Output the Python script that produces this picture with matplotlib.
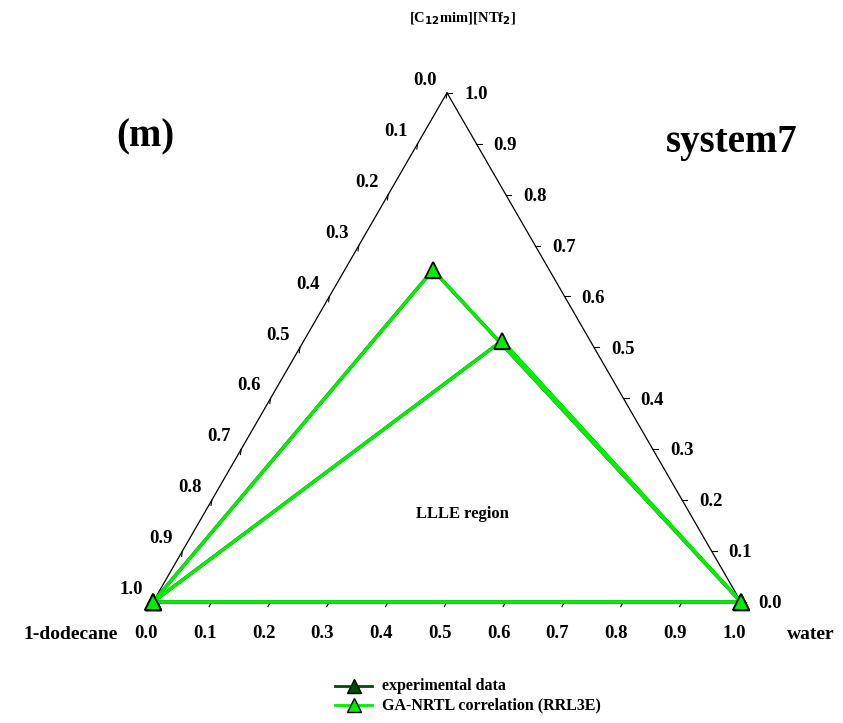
import numpy as np
import matplotlib
matplotlib.use("Agg")
import matplotlib.pyplot as plt

plt.rcParams['font.family'] = ['Liberation Serif', 'DejaVu Serif']
plt.rcParams['font.weight'] = 'bold'

# compositions (mass fractions): IL = [C12mim][NTf2], water; dodecane = 1 - IL - water
exp_il_a = [0.0, 0.652, 0.0, 0.0]
exp_water_a = [0.0, 0.150, 1.0, 0.0]
exp_il_b = [0.0, 0.513, 0.0]
exp_water_b = [0.0, 0.337, 1.0]

calc_il_a = [0.0, 0.652, 0.0, 0.0]
calc_water_a = [0.0, 0.150, 1.0, 0.0]
calc_il_b = [0.0, 0.513, 0.0]
calc_water_b = [0.0, 0.337, 1.0]

ticks = [0.0, 0.1, 0.2, 0.3, 0.4, 0.5, 0.6, 0.7, 0.8, 0.9, 1.0]
H = np.sqrt(3) / 2


def to_xy(il, water):
    il = np.asarray(il)
    water = np.asarray(water)
    return water + 0.5 * il, il * H


fig = plt.figure(figsize=(8.43, 7.23), dpi=100)
ax = fig.add_axes([0, 0, 1, 1])
ax.set_xlim(-153 / 588, (843 - 153) / 588)
ax.set_ylim(-121 / 588, (723 - 121) / 588)
ax.axis("off")

# triangle frame
ax.plot([0, 1, 0.5, 0], [0, 0, H, 0], color="black", lw=0.9, zorder=1)

tl = 0.009
fs = 13.5
for t in ticks:
    # bottom axis (water)
    ax.plot([t, t - 0.5 * tl], [0, -H * tl], color="black", lw=0.8)
    ax.text(t - 0.012, -0.053, f"{t:.1f}", ha="center", va="center", fontsize=fs)
    # right axis (IL)
    xr, yr = 1 - 0.5 * t, t * H
    ax.plot([xr, xr + tl], [yr, yr], color="black", lw=0.8)
    ax.text(xr + 0.049, yr - 0.003, f"{t:.1f}", ha="center", va="center", fontsize=fs)
    # left axis (1-dodecane)
    xl, yl = 0.5 * (1 - t), (1 - t) * H
    ax.plot([xl, xl - 0.15 * tl], [yl, yl - tl], color="black", lw=0.8)
    ax.text(xl - 0.037, yl + 0.021, f"{t:.1f}", ha="center", va="center", fontsize=fs)

# experimental data
for il, w in [(exp_il_a, exp_water_a), (exp_il_b, exp_water_b)]:
    x, y = to_xy(il, w)
    ax.plot(x, y, color="#004d00", lw=2.4, marker="^", markersize=11,
            markerfacecolor="#004d00", markeredgecolor="black", zorder=2)

# GA-NRTL correlation
for il, w in [(calc_il_a, calc_water_a), (calc_il_b, calc_water_b)]:
    x, y = to_xy(il, w)
    ax.plot(x, y, color="#00ee00", lw=2.4, marker="^", markersize=11,
            markerfacecolor="#00ee00", markeredgecolor="black", markeredgewidth=1.2, zorder=3)

ax.text(0.527, 0.992, r"[C$_{\mathbf{12}}$mim][NTf$_{\mathbf{2}}$]", ha="center", va="center", fontsize=10.5)
ax.text(-0.14, -0.055, "1-dodecane", ha="center", va="center", fontsize=14)
ax.text(1.119, -0.055, "water", ha="center", va="center", fontsize=14)
ax.text(-0.0136, 0.791, "(m)", ha="center", va="center", fontsize=28)
ax.text(0.985, 0.781, "system7", ha="center", va="center", fontsize=28)
ax.text(0.527, 0.150, "LLLE region", ha="center", va="center", fontsize=12)

# legend
lx0, lx1 = 0.31, 0.372
for yy, lc, fc, lab in [(-0.143, "#004d00", "#004d00", "experimental data"),
                        (-0.175, "#00ee00", "#00ee00", "GA-NRTL correlation (RRL3E)")]:
    ax.plot([lx0, lx1], [yy, yy], color=lc, lw=2.0)
    ax.plot([(lx0 + lx1) / 2], [yy], marker="^", markersize=10, color=fc, markeredgecolor="black")
    ax.text(lx1 + 0.018, yy, lab, ha="left", va="center", fontsize=11.5)

fig.savefig("out.png", dpi=100)
